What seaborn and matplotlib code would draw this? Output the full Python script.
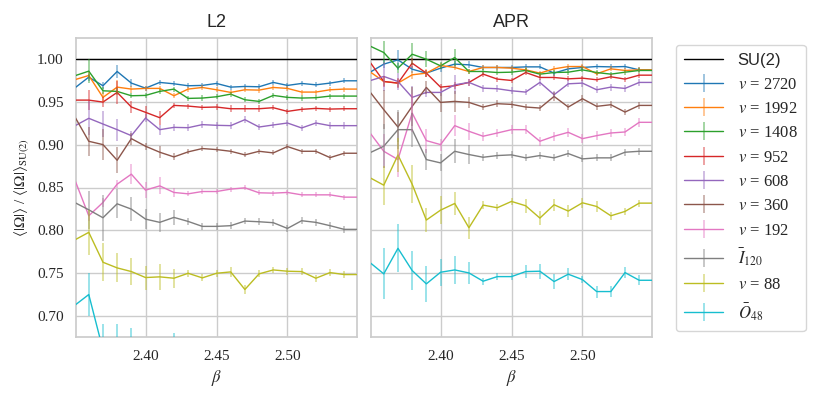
import numpy as np
import pandas as pd
import matplotlib
matplotlib.use("Agg")
import matplotlib.pyplot as plt
import seaborn as sns
from matplotlib.lines import Line2D
from matplotlib.colors import to_rgba

beta = [2.35, 2.36, 2.37, 2.38, 2.39, 2.40, 2.41, 2.42, 2.43, 2.44, 2.45,
        2.46, 2.47, 2.48, 2.49, 2.50, 2.51, 2.52, 2.53, 2.54, 2.55]

series_labels = [r"$v$ = 2720", r"$v$ = 1992", r"$v$ = 1408", r"$v$ = 952",
                 r"$v$ = 608", r"$v$ = 360", r"$v$ = 192", r"$\bar{I}_{120}$",
                 r"$v$ = 88", r"$\bar{O}_{48}$"]

# ---- L2 panel ----
l2_2720 = [0.9663, 0.9792, 0.9691, 0.9858, 0.9722, 0.9663, 0.9730, 0.9714, 0.9691, 0.9695, 0.9718,
           0.9675, 0.9683, 0.9679, 0.9730, 0.9695, 0.9718, 0.9702, 0.9722, 0.9749, 0.9749]
l2_1992 = [0.9761, 0.9811, 0.9555, 0.9675, 0.9652, 0.9660, 0.9660, 0.9574, 0.9652, 0.9671, 0.9644,
           0.9613, 0.9644, 0.9640, 0.9671, 0.9660, 0.9617, 0.9617, 0.9644, 0.9652, 0.9652]
l2_1408 = [0.9807, 0.9862, 0.9632, 0.9625, 0.9574, 0.9578, 0.9625, 0.9652, 0.9543, 0.9547, 0.9562,
           0.9593, 0.9527, 0.9508, 0.9578, 0.9555, 0.9547, 0.9551, 0.9570, 0.9570, 0.9570]
l2_952 = [0.9523, 0.9523, 0.9500, 0.9613, 0.9442, 0.9380, 0.9317, 0.9461, 0.9453, 0.9438, 0.9442,
          0.9422, 0.9422, 0.9422, 0.9434, 0.9391, 0.9415, 0.9426, 0.9418, 0.9422, 0.9422]
l2_608 = [0.9220, 0.9310, 0.9243, 0.9177, 0.9107, 0.9313, 0.9177, 0.9204, 0.9200, 0.9236, 0.9228,
          0.9224, 0.9294, 0.9208, 0.9232, 0.9255, 0.9197, 0.9255, 0.9224, 0.9224, 0.9224]
l2_360 = [0.9333, 0.9041, 0.9002, 0.8819, 0.9072, 0.8983, 0.8913, 0.8858, 0.8917, 0.8956, 0.8944,
          0.8924, 0.8882, 0.8924, 0.8905, 0.8979, 0.8924, 0.8924, 0.8850, 0.8901, 0.8901]
l2_192 = [0.8597, 0.8169, 0.8325, 0.8539, 0.8656, 0.8469, 0.8519, 0.8442, 0.8426, 0.8453, 0.8453,
          0.8481, 0.8496, 0.8438, 0.8434, 0.8442, 0.8414, 0.8414, 0.8414, 0.8387, 0.8387]
l2_i120 = [0.8325, 0.8239, 0.8146, 0.8309, 0.8247, 0.8130, 0.8092, 0.8150, 0.8103, 0.8045, 0.8045,
           0.8053, 0.8107, 0.8099, 0.8088, 0.8021, 0.8111, 0.8092, 0.8053, 0.8010, 0.8010]
l2_88 = [0.7885, 0.7975, 0.7625, 0.7559, 0.7516, 0.7446, 0.7454, 0.7438, 0.7496, 0.7442, 0.7496,
         0.7512, 0.7306, 0.7489, 0.7535, 0.7520, 0.7516, 0.7438, 0.7504, 0.7481, 0.7481]
l2_o48 = [0.7119, 0.7247, 0.6600, 0.6650, 0.6600, 0.6300, 0.6300, 0.6550, 0.6300, 0.6300, 0.6300,
          0.6300, 0.6300, 0.6300, 0.6300, 0.6300, 0.6300, 0.6300, 0.6300, 0.6300, 0.6300]

l2_err_2720 = [0.003, 0.004, 0.004, 0.008, 0.005, 0.003, 0.003, 0.003, 0.003, 0.003, 0.003,
               0.003, 0.003, 0.003, 0.003, 0.003, 0.003, 0.003, 0.003, 0.003, 0.003]
l2_err_1992 = [0.003, 0.004, 0.006, 0.008, 0.004, 0.003, 0.003, 0.003, 0.003, 0.003, 0.003,
               0.003, 0.003, 0.003, 0.003, 0.003, 0.003, 0.003, 0.003, 0.003, 0.003]
l2_err_1408 = [0.004, 0.014, 0.004, 0.004, 0.003, 0.003, 0.003, 0.003, 0.003, 0.003, 0.003,
               0.003, 0.003, 0.003, 0.003, 0.003, 0.003, 0.003, 0.003, 0.003, 0.003]
l2_err_952 = [0.004, 0.012, 0.006, 0.013, 0.007, 0.007, 0.008, 0.003, 0.003, 0.003, 0.003,
              0.004, 0.004, 0.004, 0.003, 0.003, 0.003, 0.003, 0.003, 0.003, 0.003]
l2_err_608 = [0.006, 0.020, 0.015, 0.013, 0.005, 0.005, 0.006, 0.004, 0.004, 0.004, 0.004,
              0.004, 0.004, 0.004, 0.004, 0.004, 0.004, 0.004, 0.004, 0.004, 0.004]
l2_err_360 = [0.006, 0.017, 0.018, 0.015, 0.007, 0.004, 0.007, 0.004, 0.003, 0.003, 0.003,
              0.003, 0.003, 0.003, 0.003, 0.003, 0.003, 0.003, 0.003, 0.003, 0.003]
l2_err_192 = [0.005, 0.006, 0.005, 0.005, 0.012, 0.009, 0.010, 0.005, 0.003, 0.003, 0.003,
              0.003, 0.003, 0.003, 0.003, 0.003, 0.003, 0.003, 0.003, 0.003, 0.003]
l2_err_i120 = [0.008, 0.022, 0.027, 0.017, 0.014, 0.012, 0.011, 0.009, 0.004, 0.004, 0.004,
               0.004, 0.004, 0.004, 0.004, 0.004, 0.004, 0.004, 0.004, 0.004, 0.004]
l2_err_88 = [0.010, 0.026, 0.022, 0.017, 0.016, 0.014, 0.015, 0.011, 0.004, 0.004, 0.004,
             0.006, 0.005, 0.004, 0.004, 0.004, 0.004, 0.004, 0.004, 0.004, 0.004]
l2_err_o48 = [0.010, 0.025, 0.030, 0.025, 0.025, 0.020, 0.020, 0.025, 0.010, 0.010, 0.010,
              0.010, 0.010, 0.010, 0.010, 0.010, 0.010, 0.010, 0.010, 0.010, 0.010]

# ---- APR panel ----
apr_2720 = [0.9846, 0.9944, 0.9994, 0.9885, 0.9839, 0.9897, 0.9944, 0.9936, 0.9905, 0.9905, 0.9905,
            0.9912, 0.9912, 0.9839, 0.9889, 0.9905, 0.9916, 0.9912, 0.9916, 0.9877, 0.9877]
apr_1992 = [0.9858, 0.9741, 0.9722, 0.9819, 0.9839, 0.9928, 0.9905, 0.9858, 0.9905, 0.9905, 0.9897,
            0.9877, 0.9839, 0.9889, 0.9916, 0.9916, 0.9831, 0.9889, 0.9870, 0.9877, 0.9877]
apr_1408 = [1.0158, 1.0080, 0.9897, 1.0060, 1.0002, 0.9924, 1.0021, 0.9858, 0.9858, 0.9846, 0.9850,
            0.9870, 0.9827, 0.9846, 0.9850, 0.9877, 0.9846, 0.9827, 0.9850, 0.9870, 0.9870]
apr_952 = [0.9975, 0.9741, 0.9722, 0.9955, 0.9839, 0.9675, 0.9691, 0.9730, 0.9827, 0.9769, 0.9753,
           0.9846, 0.9788, 0.9788, 0.9772, 0.9780, 0.9761, 0.9796, 0.9769, 0.9815, 0.9815]
apr_608 = [0.9749, 0.9800, 0.9741, 0.9555, 0.9613, 0.9613, 0.9702, 0.9730, 0.9663, 0.9656, 0.9632,
           0.9617, 0.9730, 0.9586, 0.9714, 0.9722, 0.9644, 0.9675, 0.9660, 0.9730, 0.9730]
apr_360 = [0.9625, 0.9411, 0.9208, 0.9450, 0.9671, 0.9496, 0.9508, 0.9496, 0.9442, 0.9481, 0.9473,
           0.9442, 0.9430, 0.9566, 0.9442, 0.9539, 0.9450, 0.9469, 0.9383, 0.9461, 0.9461]
apr_192 = [0.9146, 0.8924, 0.8827, 0.9372, 0.9049, 0.9002, 0.9224, 0.9158, 0.9100, 0.9138, 0.9177,
           0.9177, 0.9041, 0.9100, 0.9146, 0.9072, 0.9107, 0.9138, 0.9150, 0.9263, 0.9263]
apr_i120 = [0.8905, 0.8983, 0.9177, 0.9177, 0.8827, 0.8788, 0.8924, 0.8886, 0.8854, 0.8874, 0.8882,
            0.8847, 0.8874, 0.8847, 0.8897, 0.8835, 0.8847, 0.8847, 0.8913, 0.8924, 0.8924]
apr_88 = [0.8617, 0.8527, 0.8880, 0.8539, 0.8119, 0.8235, 0.8313, 0.8029, 0.8294, 0.8263, 0.8337,
          0.8286, 0.8142, 0.8298, 0.8224, 0.8321, 0.8278, 0.8169, 0.8220, 0.8317, 0.8317]
apr_o48 = [0.7625, 0.7489, 0.7788, 0.7528, 0.7372, 0.7508, 0.7535, 0.7500, 0.7403, 0.7457, 0.7457,
           0.7516, 0.7520, 0.7399, 0.7485, 0.7422, 0.7282, 0.7282, 0.7504, 0.7414, 0.7414]

apr_err_2720 = [0.004, 0.005, 0.012, 0.004, 0.004, 0.004, 0.004, 0.004, 0.003, 0.003, 0.003,
                0.003, 0.003, 0.003, 0.003, 0.003, 0.003, 0.003, 0.003, 0.003, 0.003]
apr_err_1992 = [0.004, 0.005, 0.005, 0.005, 0.005, 0.003, 0.003, 0.003, 0.003, 0.003, 0.003,
                0.003, 0.003, 0.003, 0.003, 0.003, 0.003, 0.003, 0.003, 0.003, 0.003]
apr_err_1408 = [0.006, 0.013, 0.006, 0.013, 0.009, 0.004, 0.010, 0.003, 0.003, 0.003, 0.003,
                0.003, 0.003, 0.003, 0.003, 0.003, 0.003, 0.003, 0.003, 0.003, 0.003]
apr_err_952 = [0.005, 0.006, 0.006, 0.006, 0.004, 0.004, 0.004, 0.004, 0.003, 0.003, 0.003,
               0.003, 0.003, 0.003, 0.003, 0.003, 0.003, 0.003, 0.003, 0.003, 0.003]
apr_err_608 = [0.006, 0.017, 0.010, 0.013, 0.005, 0.004, 0.011, 0.004, 0.004, 0.004, 0.004,
               0.004, 0.004, 0.004, 0.004, 0.004, 0.004, 0.004, 0.004, 0.004, 0.004]
apr_err_360 = [0.008, 0.023, 0.018, 0.023, 0.008, 0.011, 0.012, 0.006, 0.004, 0.004, 0.004,
               0.004, 0.004, 0.005, 0.004, 0.004, 0.004, 0.004, 0.004, 0.004, 0.004]
apr_err_192 = [0.008, 0.020, 0.020, 0.022, 0.014, 0.007, 0.012, 0.010, 0.005, 0.005, 0.005,
               0.005, 0.005, 0.005, 0.005, 0.005, 0.005, 0.005, 0.005, 0.005, 0.005]
apr_err_i120 = [0.010, 0.026, 0.023, 0.020, 0.012, 0.010, 0.014, 0.011, 0.004, 0.004, 0.004,
                0.004, 0.004, 0.004, 0.004, 0.004, 0.004, 0.004, 0.004, 0.004, 0.004]
apr_err_88 = [0.010, 0.023, 0.020, 0.022, 0.014, 0.016, 0.014, 0.013, 0.005, 0.004, 0.004,
              0.008, 0.008, 0.007, 0.007, 0.006, 0.006, 0.005, 0.004, 0.004, 0.004]
apr_err_o48 = [0.012, 0.030, 0.028, 0.023, 0.021, 0.016, 0.016, 0.013, 0.004, 0.004, 0.004,
               0.008, 0.009, 0.009, 0.007, 0.004, 0.007, 0.006, 0.006, 0.006, 0.006]

su2_value = 1.0
x_ticks = [2.40, 2.45, 2.50]
y_ticks = [0.70, 0.75, 0.80, 0.85, 0.90, 0.95, 1.00]

panels = {
    "L2": ([l2_2720, l2_1992, l2_1408, l2_952, l2_608, l2_360, l2_192, l2_i120, l2_88, l2_o48],
           [l2_err_2720, l2_err_1992, l2_err_1408, l2_err_952, l2_err_608, l2_err_360,
            l2_err_192, l2_err_i120, l2_err_88, l2_err_o48]),
    "APR": ([apr_2720, apr_1992, apr_1408, apr_952, apr_608, apr_360, apr_192, apr_i120, apr_88, apr_o48],
            [apr_err_2720, apr_err_1992, apr_err_1408, apr_err_952, apr_err_608, apr_err_360,
             apr_err_192, apr_err_i120, apr_err_88, apr_err_o48]),
}

sns.set_theme(style="whitegrid")
plt.rcParams["font.family"] = ["Liberation Serif", "DejaVu Serif"]
plt.rcParams["mathtext.fontset"] = "stix"
plt.rcParams["axes.edgecolor"] = ".8"
plt.rcParams["axes.linewidth"] = 1.25
plt.rcParams["grid.color"] = ".8"
sans = ["Liberation Sans Narrow", "Liberation Sans", "DejaVu Sans"]

palette = sns.color_palette("tab10", 10)

fig = plt.figure(figsize=(8.22, 3.97), dpi=100)
ax1 = fig.add_axes([76 / 822, 1 - 337 / 397, (357 - 76) / 822, (337 - 38) / 397])
ax2 = fig.add_axes([371 / 822, 1 - 337 / 397, (652 - 371) / 822, (337 - 38) / 397], sharey=ax1)

for ax, (name, (vals, errs)) in zip([ax1, ax2], panels.items()):
    rows = []
    for lab, v, e in zip(series_labels, vals, errs):
        for b, vv, ee in zip(beta, v, e):
            rows.append({"beta": b, "value": vv, "err": ee, "series": lab})
    df = pd.DataFrame(rows)
    ax.axhline(su2_value, color="black", lw=1, zorder=3)
    sns.lineplot(data=df, x="beta", y="value", hue="series", hue_order=series_labels,
                 palette=palette, ax=ax, legend=False, lw=1, zorder=4)
    for lab, c in zip(series_labels, palette):
        sub = df[df["series"] == lab]
        ax.errorbar(sub["beta"], sub["value"], yerr=sub["err"], fmt="none",
                    ecolor=to_rgba(c, 0.55), elinewidth=1.1, capsize=0, zorder=4)
    ax.set_title(name, fontsize=13, family=sans, pad=8)
    ax.set_xlim(2.351, 2.549)
    ax.set_ylim(0.675, 1.025)
    ax.set_xticks(x_ticks)
    ax.set_xticklabels([f"{t:.2f}" for t in x_ticks])
    ax.set_xlabel(r"$\beta$", fontsize=12)
    ax.set_ylabel("")
    ax.tick_params(labelsize=11, pad=3)
    for s in ax.spines.values():
        s.set_color(".8")
        s.set_linewidth(1.25)

ax1.set_yticks(y_ticks)
ax1.set_yticklabels([f"{t:.2f}" for t in y_ticks])
ax1.set_ylabel(r"$\langle|\Omega|\rangle$ / $\langle|\Omega|\rangle_{\mathrm{SU(2)}}$", fontsize=11)
plt.setp(ax2.get_yticklabels(), visible=False)
ax2.tick_params(axis="y", length=0)

handles = [Line2D([], [], color="black", lw=1)]
for c in palette:
    handles.append(Line2D([], [], color=c, lw=1, marker="|", markersize=13,
                          markeredgewidth=1.1, markeredgecolor=to_rgba(c, 0.55)))
labels = ["SU(2)"] + series_labels
leg = fig.legend(handles, labels, loc="upper left", bbox_to_anchor=(676 / 822, 1 - 45 / 397),
                 borderaxespad=0, fontsize=12, frameon=True, handlelength=2.3,
                 labelspacing=0.5, borderpad=0.5, handletextpad=0.9)
leg.get_frame().set_edgecolor(".8")
leg.get_texts()[0].set_family("Liberation Sans")

fig.savefig("out.png", dpi=100)
